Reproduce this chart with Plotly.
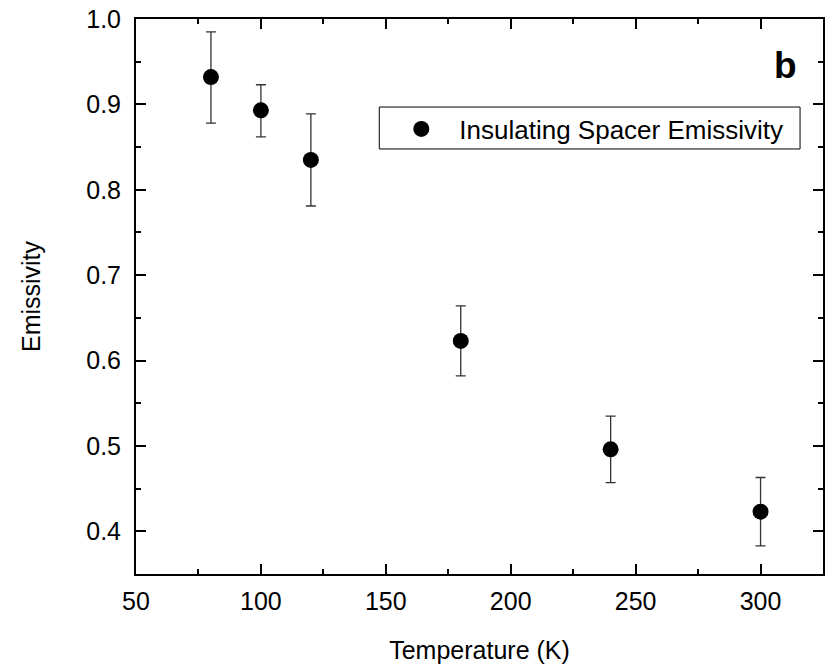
import plotly.graph_objects as go

temperature = [80, 100, 120, 180, 240, 300]
emissivity = [0.932, 0.893, 0.835, 0.623, 0.496, 0.423]
err_plus = [0.053, 0.030, 0.054, 0.041, 0.039, 0.040]
err_minus = [0.054, 0.031, 0.054, 0.041, 0.039, 0.040]

fig = go.Figure()
fig.add_trace(go.Scatter(
    x=temperature, y=emissivity, mode="markers",
    name="Insulating Spacer Emissivity",
    marker=dict(color="black", size=16),
    error_y=dict(type="data", array=err_plus, arrayminus=err_minus,
                 color="#333333", thickness=1.3, width=5),
))

font = "Liberation Sans, Arial, sans-serif"
axis_common = dict(
    showline=True, linecolor="black", linewidth=2, mirror="ticks",
    ticks="inside", ticklen=10, tickwidth=2, tickcolor="black",
    showgrid=False, zeroline=False,
    tickfont=dict(family=font, size=25, color="black"),
)
fig.update_xaxes(range=[50, 325], dtick=50, tick0=50, ticklabelstandoff=4,
                 minor=dict(ticks="inside", ticklen=5, tickwidth=2, dtick=25, tickcolor="black"),
                 title=dict(text="Temperature (K)", font=dict(family=font, size=25, color="black"), standoff=27),
                 **axis_common)
fig.update_yaxes(range=[0.35, 1.0], dtick=0.1, tick0=0.4, tickformat=".1f", ticklabelstandoff=8,
                 minor=dict(ticks="inside", ticklen=5, tickwidth=2, dtick=0.05, tickcolor="black"),
                 title=dict(text="Emissivity", font=dict(family=font, size=25, color="black"), standoff=38),
                 **axis_common)

fig.add_annotation(text="<b>b</b>", x=0.946, y=0.917, xref="paper", yref="paper",
                   xanchor="center", yanchor="middle",
                   showarrow=False, font=dict(family=font, size=37, color="black"))

# legend frame
fig.add_shape(type="rect", xref="paper", yref="paper",
              x0=0.3541, x1=0.9666, y0=0.7658, y1=0.8414,
              line=dict(color="black", width=1), fillcolor="rgba(0,0,0,0)", layer="above")

fig.update_layout(
    width=827, height=667,
    margin=dict(l=136, r=2, t=19, b=93),
    plot_bgcolor="white", paper_bgcolor="white",
    showlegend=True,
    legend=dict(x=0.36, y=0.8018, xanchor="left", yanchor="middle",
                borderwidth=0, bgcolor="rgba(0,0,0,0)", itemwidth=66,
                font=dict(family=font, size=26, color="black")),
    font=dict(family=font, color="black"),
)

fig.write_html(
    "out.html",
    config={"responsive": False, "displayModeBar": False},
    post_script="document.body.style.margin='0';document.body.style.overflow='hidden';",
)
